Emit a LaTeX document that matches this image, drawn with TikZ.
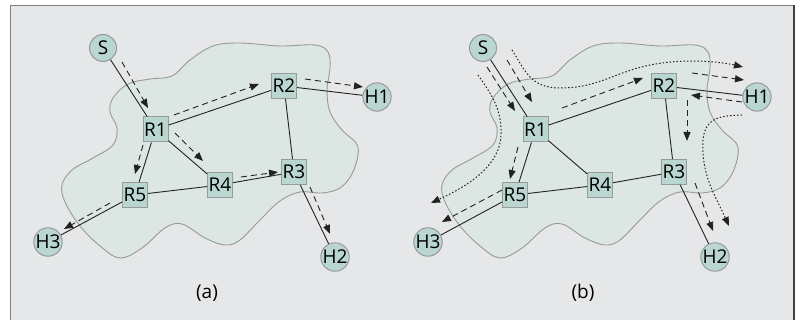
\documentclass[tikz,border=0pt]{standalone}
\usepackage{fontspec}
\setmainfont{Open Sans}
\usetikzlibrary{arrows.meta}
\definecolor{panelbg}{HTML}{E6E7E8}
\definecolor{blobfill}{HTML}{DCE6E3}
\definecolor{nodefill}{HTML}{B9D6D0}
\definecolor{nodeline}{HTML}{999999}
\definecolor{blobline}{HTML}{999999}
\definecolor{ink}{HTML}{222222}
\newcommand\lblfont{\fontsize{19}{19}\selectfont}
\tikzset{
 host/.style={circle,draw=nodeline,fill=nodefill,line width=1pt,minimum size=27pt,inner sep=0pt,font=\lblfont},
 router/.style={rectangle,draw=nodeline,fill=nodefill,line width=1pt,minimum width=25pt,minimum height=25pt,inner sep=0pt,font=\lblfont},
 link/.style={draw=ink,line width=0.9pt},
 flow/.style={draw=ink,line width=0.9pt,dash pattern=on 6pt off 4pt,-{Triangle[length=9pt,width=7pt]}},
 dotflow/.style={draw=ink,line width=1pt,dash pattern=on 1.5pt off 2pt,-{Triangle[length=9pt,width=7pt]}},
 blob/.style={draw=blobline,fill=blobfill,line width=0.9pt},
 caption/.style={font=\lblfont},
}
\newcommand\netpanel[2]{%
 \begin{scope}[xshift=#2]
  \draw[blob] plot[smooth cycle,tension=0.6] coordinates {
   (113,98) (128,84) (150,79) (172,76) (190,60) (213,46) (240,43) (280,46) (315,45) (328,52) (330,68) (327,90) (330,112) (342,130) (356,143) (358,155) (352,174) (340,188) (322,193) (300,192) (280,201) (260,220) (240,240) (225,245) (205,238) (182,224) (165,228) (142,248) (120,258) (100,246) (80,226) (65,202) (62,185) (72,170) (93,158) (113,145) (117,128) (110,112)};
  \node[host] (#1S) at (103,48) {S};
  \node[router] (#1R1) at (155.5,129.5) {R1};
  \node[router] (#1R2) at (284,86) {R2};
  \node[host] (#1H1) at (377,97) {H1};
  \node[router] (#1R3) at (294,172) {R3};
  \node[router] (#1R4) at (220,185) {R4};
  \node[router] (#1R5) at (135,195) {R5};
  \node[host] (#1H3) at (48,242) {H3};
  \node[host] (#1H2) at (335,257) {H2};
  \draw[link] (#1S) -- (#1R1);
  \draw[link] (#1R1) -- (#1R2);
  \draw[link] (#1R2) -- (#1H1);
  \draw[link] (#1R1) -- (#1R5);
  \draw[link] (#1R1) -- (#1R4);
  \draw[link] (#1R2) -- (#1R3);
  \draw[link] (#1R3) -- (#1R4);
  \draw[link] (#1R4) -- (#1R5);
  \draw[link] (#1R5) -- (#1H3);
  \draw[link] (#1R3) -- (#1H2);
 \end{scope}}
\begin{document}
\begin{tikzpicture}[x=1pt,y=-1pt]
\useasboundingbox (0,0) rectangle (798,320);
\fill[white] (0,0) rectangle (798,320);
\fill[panelbg] (10.5,5.5) rectangle (794,320);
\draw[color=gray,line width=1.5pt] (10.5,320) -- (10.5,5.5) -- (794,5.5);
\draw[color=black!75,line width=1.5pt] (794,5.5) -- (794,320);
\netpanel{a}{0pt}
\netpanel{b}{380pt}
% panel (a) flows
\draw[flow] (122,62) -- (148,108);
\draw[flow] (174,115) -- (259,84);
\draw[flow] (305,79) -- (363,87);
\draw[flow] (175,133) -- (203,161);
\draw[flow] (143,145) -- (135,174);
\draw[flow] (241,177) -- (278,172);
\draw[flow] (310,187) -- (330,234);
\draw[flow] (110,203) -- (64,229);
\node[caption] (capa) at (207,293) {(a)};
% panel (b) flows
\draw[flow] (487,67) -- (515,111);
\draw[flow] (507,60) -- (532,102);
\draw[flow] (562,108) -- (643,78);
\draw[flow] (692,73) -- (744,80);
\draw[flow] (742,102) -- (691,95);
\draw[flow] (687,100) -- (687,141);
\draw[flow] (695,183) -- (713,231);
\draw[flow] (518,147) -- (510,179);
\draw[flow] (502,190) -- (442,222);
\draw[dotflow] (478,75) .. controls (492,95) and (502,110) .. (501,135) .. controls (500,165) and (470,185) .. (431,203);
\draw[dotflow] (512,50) .. controls (525,70) and (530,88) .. (560,88) .. controls (610,88) and (620,62) .. (690,61) .. controls (715,61) and (730,64) .. (743,67);
\draw[dotflow] (742,115) .. controls (725,116) and (705,115) .. (703,140) .. controls (701,175) and (715,195) .. (729,226);
\node[caption] (capb) at (583,293) {(b)};
\end{tikzpicture}
\end{document}
